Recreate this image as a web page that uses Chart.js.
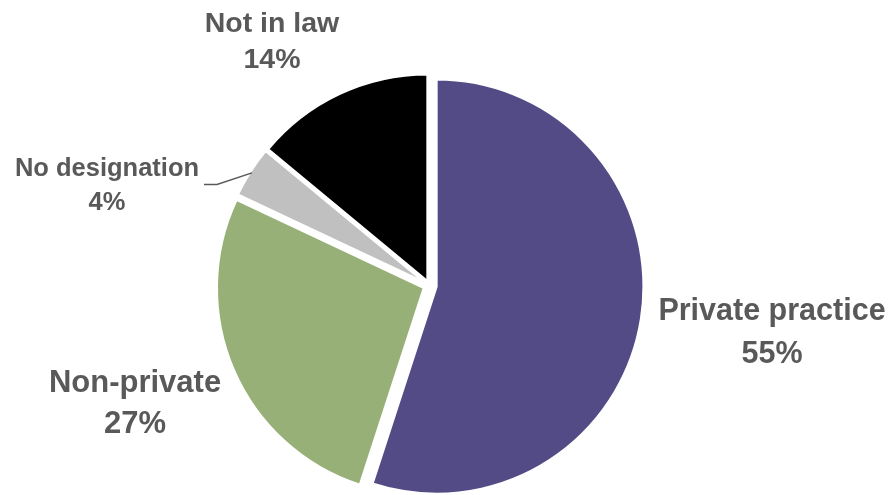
<!DOCTYPE html>
<html>
<head>
<meta charset="utf-8">
<script src="https://cdn.jsdelivr.net/npm/chart.js@4/dist/chart.umd.min.js"></script>
<style>
  html, body { margin: 0; padding: 0; background: #fff; }
  #wrap { width: 891px; height: 495px; position: relative; }
</style>
</head>
<body>
<div id="wrap"><canvas id="designationChart"></canvas></div>
<script>
// Share of practitioners by designation
const categories = ['Private practice', 'Non-private', 'No designation', 'Not in law'];
const shares = [55, 27, 4, 14];

const sliceColors = ['#534b85', '#97b077', '#c0c0c0', '#000000'];
// how far each slice is pulled out from the middle, px
const explode = [7, 6, 5, 4.5];
// label anchor: centre x, first baseline, second baseline, font size
const labelPos = [
  [772, 320, 363, 30.5],
  [135, 392, 433, 31],
  [107, 176, 210, 25.5],
  [272, 32, 68, 28.5]
];

const explodePlugin = {
  id: 'explodeSlices',
  afterDatasetsUpdate(chart) {
    const arcs = chart.getDatasetMeta(0).data;
    arcs.forEach((arc, i) => {
      const mid = (arc.startAngle + arc.endAngle) / 2;
      arc.x += Math.cos(mid) * explode[i];
      arc.y += Math.sin(mid) * explode[i];
    });
  }
};

const labelPlugin = {
  id: 'sliceLabels',
  afterDatasetsDraw(chart) {
    const ctx = chart.ctx;
    const arcs = chart.getDatasetMeta(0).data;
    ctx.save();
    ctx.fillStyle = '#595959';
    ctx.textAlign = 'center';
    ctx.textBaseline = 'alphabetic';
    categories.forEach((name, i) => {
      const [x, y1, y2, size] = labelPos[i];
      ctx.font = `bold ${size}px "Liberation Sans", Arial, sans-serif`;
      ctx.fillText(name, x, y1);
      ctx.fillText(shares[i] + '%', x, y2);
    });

    // leader line for the thin slice
    const arc = arcs[2];
    const mid = (arc.startAngle + arc.endAngle) / 2;
    const r = arc.outerRadius - 2;
    ctx.strokeStyle = '#595959';
    ctx.lineWidth = 1.5;
    ctx.beginPath();
    ctx.moveTo(204, 184.5);
    ctx.lineTo(217, 184.5);
    ctx.lineTo(arc.x + Math.cos(mid) * r, arc.y + Math.sin(mid) * r);
    ctx.stroke();
    ctx.restore();
  }
};

new Chart(document.getElementById('designationChart'), {
  type: 'pie',
  data: {
    labels: categories,
    datasets: [{
      data: shares,
      backgroundColor: sliceColors,
      borderColor: '#ffffff',
      borderWidth: 2.5,
      hoverBorderWidth: 2.5,
      hoverOffset: 0
    }]
  },
  options: {
    responsive: true,
    maintainAspectRatio: false,
    animation: false,
    events: [],
    layout: {
      padding: { top: 77, bottom: 1, left: 0, right: 32 }
    },
    plugins: {
      legend: { display: false },
      tooltip: { enabled: false }
    }
  },
  plugins: [explodePlugin, labelPlugin]
});
</script>
</body>
</html>
